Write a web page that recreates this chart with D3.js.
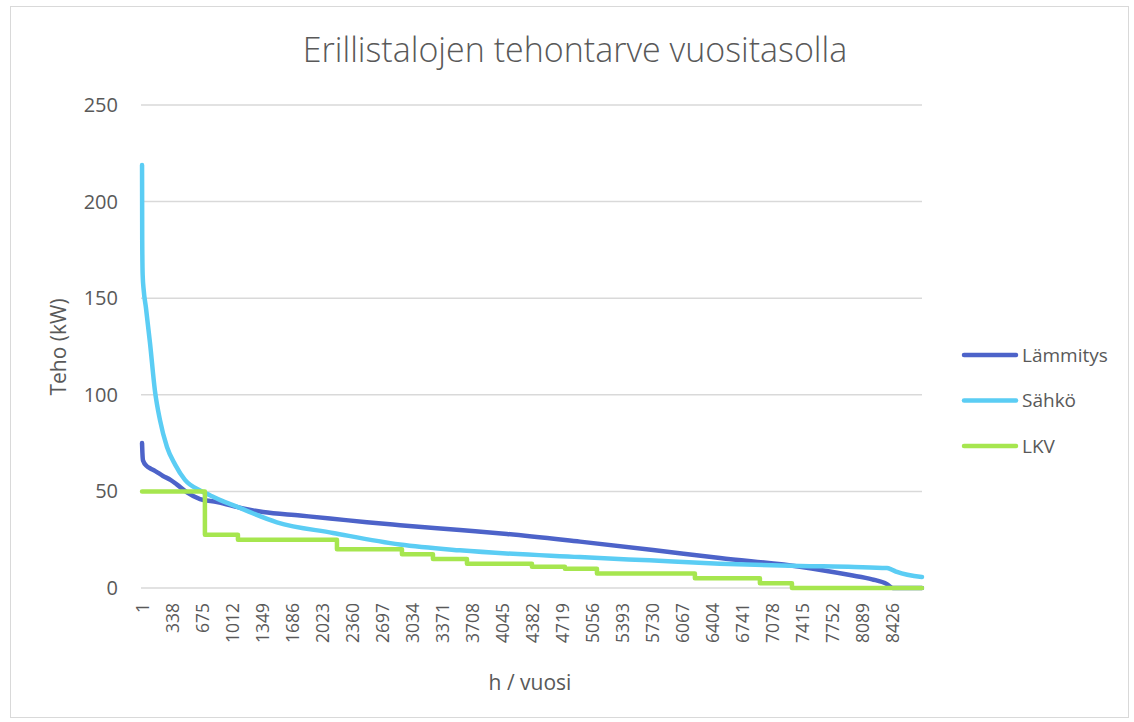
<!DOCTYPE html>
<html>
<head>
<meta charset="utf-8">
<script src="https://cdn.jsdelivr.net/npm/d3@7"></script>
<style>
  body { margin: 0; background: #fff; }
  text { font-family: "Open Sans", sans-serif; fill: #595959; }
</style>
</head>
<body>
<svg id="graphic" width="1134" height="722"></svg>
<script>
// hours of the year (sorted duration curve), values in kW
const lammitysHours = [1, 5, 12, 56, 90, 150, 236, 320, 394, 506, 652, 843, 1135, 1360, 1775, 2112, 2527, 2898, 3572, 4100, 4920, 5740, 6492, 7390, 7952, 8200, 8367, 8435, 8760];
const lammitysValues = [75, 70, 66, 63, 62, 60.5, 58, 56, 53.5, 49.5, 46, 44.5, 41.2, 39.3, 37.5, 36, 34, 32.5, 30, 28, 24, 19.7, 15.5, 11, 6.7, 4.5, 2, 0, 0];

const sahkoHours = [1, 3, 8, 20, 45, 90, 146, 202, 281, 371, 483, 652, 764, 880, 1044, 1516, 2145, 2897, 3570, 4918, 5700, 6490, 7390, 8000, 8366, 8420, 8479, 8760];
const sahkoValues = [219, 180, 162, 154, 145, 127, 102, 87, 73, 64, 56, 50.5, 48, 45.5, 42.5, 34, 28.5, 22.5, 19.5, 16, 14.3, 12.6, 11.4, 10.9, 10.3, 9.5, 8.3, 5.7];

const lkvHours = [1, 707, 1078, 2190, 2920, 3268, 3650, 4380, 4750, 5110, 6210, 6940, 7300, 8760];
const lkvValues = [50, 27.5, 25, 20, 17.5, 15, 12.5, 11, 10, 7.5, 5, 2.5, 0, 0];

const yTicks = [0, 50, 100, 150, 200, 250];
const xTicks = [1, 338, 675, 1012, 1349, 1686, 2023, 2360, 2697, 3034, 3371, 3708, 4045, 4382, 4719, 5056, 5393, 5730, 6067, 6404, 6741, 7078, 7415, 7752, 8089, 8426];

const seriesNames = ["Lämmitys", "Sähkö", "LKV"];
const seriesColors = ["#4D63C9", "#5BCDF4", "#A6E64F"];

const svg = d3.select('#graphic');

svg.append('rect')
    .attr('x', 10.5).attr('y', 6.5)
    .attr('width', 1118).attr('height', 711)
    .attr('fill', '#fff')
    .attr('stroke', '#d9d9d9');

let xScale = d3.scaleLinear().domain([0.5, 8760.5]).range([142, 922]);
let yScale = d3.scaleLinear().domain([0, 250]).range([588, 105]);

// grid
svg.append('g')
    .selectAll('line')
    .data(yTicks)
    .enter()
    .append('line')
    .attr('x1', 141).attr('x2', 922)
    .attr('y1', d => yScale(d)).attr('y2', d => yScale(d))
    .attr('stroke', '#d9d9d9')
    .attr('stroke-width', 1.5);

// y axis labels
let yAxis = d3.axisLeft(yScale).tickValues(yTicks).tickSize(0).tickPadding(0);
let yg = svg.append('g')
    .attr('transform', 'translate(118,0)')
    .call(yAxis);
yg.select('.domain').remove();
yg.selectAll('text')
    .attr('font-size', 20)
    .attr('font-family', null)
    .attr('fill', null);

// x axis labels, rotated
let xAxis = d3.axisBottom(xScale).tickValues(xTicks).tickFormat(d3.format('d')).tickSize(0).tickPadding(0);
let xg = svg.append('g')
    .attr('transform', 'translate(0,603)')
    .call(xAxis);
xg.select('.domain').remove();
xg.selectAll('text')
    .attr('font-size', 17.5)
    .attr('font-family', null)
    .attr('fill', null)
    .attr('text-anchor', 'end')
    .attr('dy', '0.35em')
    .attr('y', 0)
    .attr('transform', 'rotate(-90)');

// lines
const lineSmooth = d3.line()
    .x(d => xScale(d[0]))
    .y(d => yScale(d[1]))
    .curve(d3.curveMonotoneX);
const lineStep = d3.line()
    .x(d => xScale(d[0]))
    .y(d => yScale(d[1]))
    .curve(d3.curveStepAfter);

const series = [
    d3.zip(lammitysHours, lammitysValues),
    d3.zip(sahkoHours, sahkoValues),
    d3.zip(lkvHours, lkvValues)
];

series.forEach((s, i) => {
    svg.append('path')
        .datum(s)
        .attr('d', i === 2 ? lineStep : lineSmooth)
        .attr('fill', 'none')
        .attr('stroke', seriesColors[i])
        .attr('stroke-width', 4.5)
        .attr('stroke-linejoin', 'round')
        .attr('stroke-linecap', 'round');
});

// title
svg.append('text')
    .attr('x', 575).attr('y', 62)
    .attr('text-anchor', 'middle')
    .attr('font-size', 34)
    .attr('font-weight', 300)
    .text('Erillistalojen tehontarve vuositasolla');

// axis titles
svg.append('text')
    .attr('transform', 'translate(66,347) rotate(-90)')
    .attr('text-anchor', 'middle')
    .attr('font-size', 21)
    .text('Teho (kW)');

svg.append('text')
    .attr('x', 530).attr('y', 690)
    .attr('text-anchor', 'middle')
    .attr('font-size', 21)
    .text('h / vuosi');

// legend
let legend = svg.append('g')
    .selectAll('g')
    .data(seriesNames)
    .enter()
    .append('g')
    .attr('transform', (d, i) => `translate(0,${355 + i * 45.5})`);
legend.append('line')
    .attr('x1', 964).attr('x2', 1016)
    .attr('stroke', (d, i) => seriesColors[i])
    .attr('stroke-width', 4.5)
    .attr('stroke-linecap', 'round');
legend.append('text')
    .attr('x', 1022)
    .attr('dy', '0.35em')
    .attr('font-size', 19)
    .text(d => d);
</script>
</body>
</html>
